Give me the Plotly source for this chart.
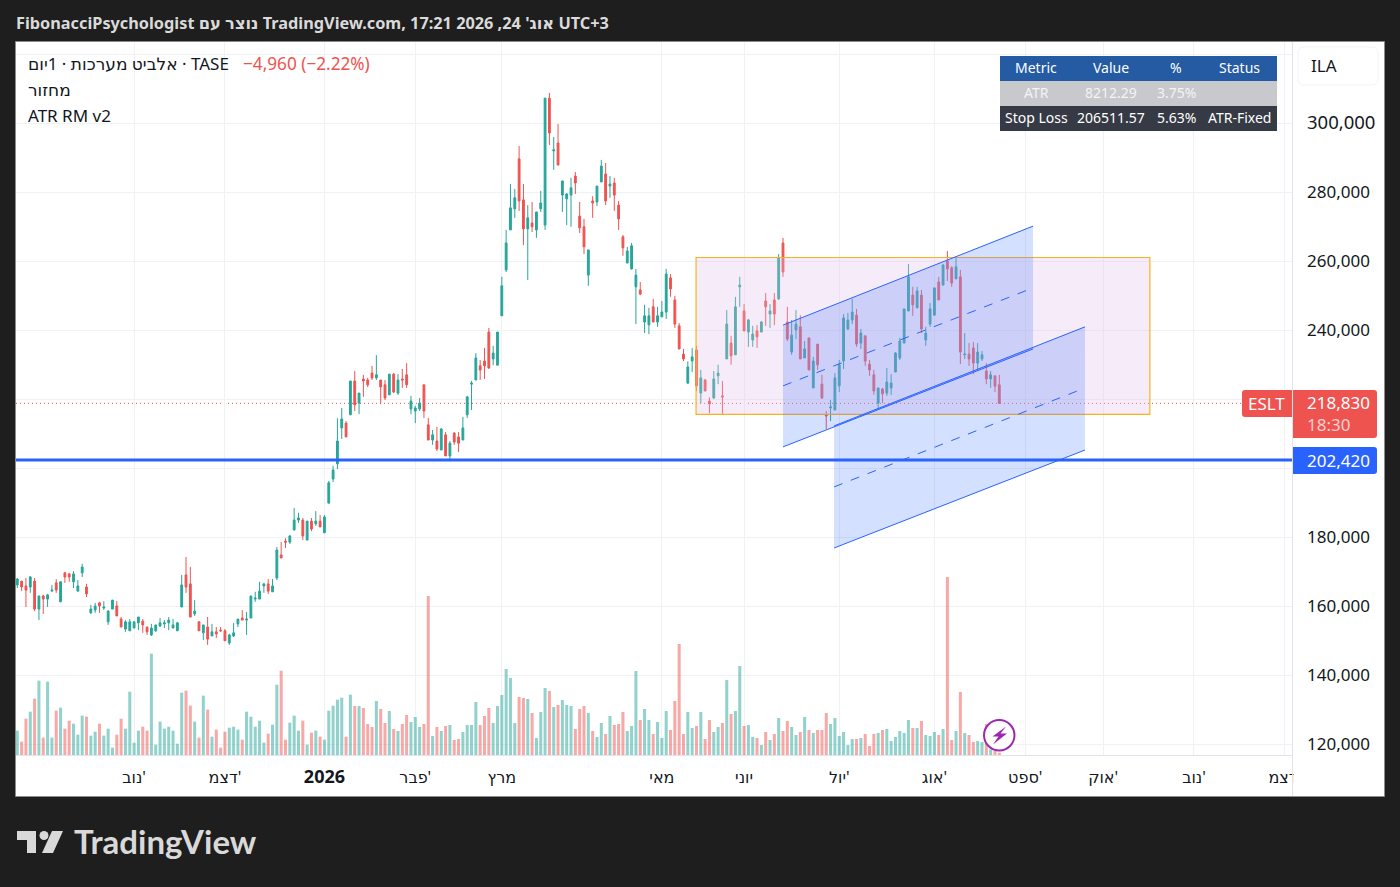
import plotly.graph_objects as go

# prices in thousands of agorot, one entry per daily bar
opens_k = [
    166.2,167.3,165.9,165.6,167.3,159.2,163.0,162.1,164.4,166.8,
    161.3,169.7,169.4,167.1,164.4,169.7,165.6,158.1,158.9,161.0,
    159.5,155.5,159.2,160.1,156.3,153.4,152.9,153.7,155.2,155.7,
    154.0,151.7,152.9,154.3,154.9,155.2,153.7,152.9,159.8,169.1,
    166.5,157.8,155.5,152.3,154.0,151.4,152.6,153.1,152.9,149.4,
    151.4,154.9,156.6,156.0,156.6,162.1,162.1,165.9,166.5,164.2,
    168.2,174.9,178.9,178.6,182.1,185.0,185.0,179.2,184.7,183.9,
    184.7,181.3,189.9,196.9,201.3,211.7,213.1,215.5,225.3,218.9,
    225.9,225.6,227.6,226.2,225.6,224.2,221.3,227.3,221.8,225.9,
    227.1,217.2,216.6,217.2,224.2,212.6,208.2,207.9,205.3,209.7,
    203.6,210.2,209.1,208.2,215.5,224.4,225.6,229.7,231.1,239.5,
    231.7,229.9,244.2,257.5,269.1,275.2,289.7,277.8,269.4,271.1,
    269.1,275.2,270.5,307.3,292.0,294.3,279.2,278.1,279.2,284.7,
    273.1,270.0,256.0,277.5,277.2,283.0,285.3,281.8,282.7,276.3,
    267.1,259.5,257.8,252.6,251.7,242.4,241.6,246.8,242.4,243.9,
    245.3,255.2,248.8,241.3,233.1,224.7,231.1,234.3,221.8,225.6,
    219.5,220.4,226.8,221.0,231.7,236.3,232.9,252.6,245.6,239.5,
    237.2,239.8,239.5,248.5,244.7,248.8,249.1,265.3,242.4,233.7,
    240.1,241.0,232.0,237.8,223.3,236.0,224.4,215.5,217.5,216.9,
    223.9,231.1,240.4,243.0,244.4,236.3,238.4,230.2,227.1,218.9,
    223.0,221.8,223.3,227.9,232.0,236.3,245.6,250.2,246.5,250.2,
    237.2,241.8,244.4,254.0,253.1,260.1,258.1,254.9,255.5,232.9,
    233.1,234.9,230.5,231.7,228.2,225.9,226.8,224.2,
]
highs_k = [
    168.2,167.3,168.2,168.8,168.2,163.0,163.3,163.6,166.2,167.9,
    167.1,169.9,169.7,170.2,167.6,172.3,166.5,160.4,161.0,161.3,
    161.5,158.9,161.8,161.5,156.9,156.0,156.3,155.5,156.9,156.3,
    154.0,154.9,154.6,156.6,156.0,156.9,156.3,155.5,169.1,174.3,
    171.4,161.8,155.7,154.6,156.9,154.9,154.0,154.0,153.4,152.0,
    155.2,156.3,158.9,158.4,163.0,164.2,167.1,166.8,167.9,167.9,
    177.2,178.6,179.7,180.6,188.5,187.1,185.6,184.7,185.6,187.6,
    186.5,186.5,196.3,200.7,214.5,217.5,213.7,225.3,228.2,221.8,
    227.1,226.2,229.7,232.8,225.6,225.6,227.3,227.6,227.3,228.8,
    230.5,221.0,218.1,220.4,224.2,214.6,211.1,212.0,211.7,210.5,
    207.9,210.5,210.5,214.9,221.0,225.3,233.4,231.4,234.9,240.7,
    235.5,239.5,255.5,269.1,282.4,281.0,293.4,282.4,276.3,277.2,
    274.3,280.4,307.3,308.8,296.0,299.8,283.3,279.8,284.2,285.9,
    277.2,272.3,263.3,278.9,281.8,289.4,288.5,284.7,284.2,277.5,
    267.6,264.2,265.3,257.8,254.0,247.4,246.5,249.1,246.8,248.5,
    257.8,256.3,250.0,242.1,234.6,231.0,234.9,235.5,228.5,225.9,
    220.6,228.2,230.0,225.3,245.9,238.4,249.7,255.5,247.6,243.3,
    241.3,241.5,242.7,250.8,247.6,250.8,262.1,266.8,246.8,243.0,
    245.9,244.4,236.9,237.8,232.3,236.0,227.1,216.6,219.8,227.6,
    231.4,244.7,245.0,249.1,246.2,240.4,238.4,231.4,228.5,223.3,
    223.3,229.1,227.3,233.7,237.8,246.2,259.2,252.6,252.6,251.7,
    241.0,247.9,252.3,255.5,259.2,263.0,258.6,261.0,257.5,239.2,
    236.3,236.6,236.3,234.0,230.5,228.2,226.8,227.1,
]
lows_k = [
    165.3,164.4,159.8,163.9,158.6,156.0,157.8,159.8,164.4,163.9,
    161.3,166.8,167.1,165.3,164.4,168.5,162.7,157.8,158.1,158.1,
    158.9,154.6,159.2,157.2,154.0,152.6,152.9,153.7,153.1,152.3,
    151.7,151.4,152.6,154.0,153.7,153.1,153.7,152.9,159.8,163.9,
    156.9,157.2,152.9,150.2,148.8,151.4,150.8,152.6,150.0,148.8,
    151.1,154.0,156.0,151.7,156.6,161.3,162.1,163.9,163.6,164.2,
    167.6,174.0,176.9,178.1,182.1,184.2,179.2,179.2,181.8,183.3,
    183.0,181.3,189.9,196.0,199.8,208.5,209.1,215.5,216.6,215.7,
    220.7,223.6,225.6,225.6,218.6,219.8,221.3,221.8,221.3,223.3,
    223.3,215.7,213.1,216.6,214.6,208.2,206.8,205.0,205.3,203.6,
    202.7,206.8,204.7,208.2,214.6,216.9,225.6,225.6,225.9,228.8,
    229.9,229.9,244.2,256.9,269.1,272.6,274.6,264.7,254.6,268.5,
    266.8,274.3,269.1,293.7,286.5,287.9,274.3,270.5,270.0,279.5,
    268.2,262.1,252.9,272.6,276.0,283.0,276.3,278.4,274.6,269.1,
    261.6,259.5,257.6,241.8,250.2,239.2,238.9,242.4,241.0,243.9,
    243.3,249.7,240.7,234.6,231.1,224.4,227.9,222.4,218.9,222.4,
    216.0,220.1,224.4,215.8,231.7,230.0,232.9,246.8,239.8,235.2,
    235.2,234.9,239.5,241.3,240.7,241.5,248.8,255.5,236.9,232.9,
    237.5,231.7,232.0,228.5,223.3,228.5,220.1,211.4,213.7,216.9,
    222.1,228.8,240.1,241.8,235.2,234.6,229.7,226.8,221.3,217.2,
    218.9,221.0,221.3,227.9,231.4,236.3,245.6,244.2,246.5,239.2,
    235.5,241.0,244.2,248.8,253.1,254.3,252.6,254.9,230.2,231.7,
    229.7,227.3,228.5,231.1,224.4,223.3,222.1,218.8,
]
closes_k = [
    167.9,165.6,164.7,168.5,159.2,163.0,162.1,163.3,164.7,164.7,
    167.1,168.5,168.5,169.4,165.9,171.4,163.6,159.2,160.1,160.1,
    159.8,158.6,161.8,157.2,154.0,155.5,155.5,155.5,156.9,154.6,
    152.6,153.7,154.6,155.2,155.2,156.0,154.6,155.2,166.2,165.6,
    156.9,158.6,152.9,154.6,150.5,152.6,152.0,152.9,150.0,151.7,
    152.3,156.3,156.0,156.3,163.0,162.4,164.4,166.5,164.4,165.9,
    176.3,174.0,178.6,180.4,185.0,185.6,180.4,184.7,182.4,184.7,
    183.0,185.9,195.8,199.5,207.9,214.3,209.1,225.3,218.4,221.8,
    225.3,224.2,226.2,227.1,223.6,220.4,227.3,222.1,225.6,225.6,
    224.2,219.5,217.5,218.9,216.6,208.2,209.7,205.6,211.4,203.6,
    207.3,207.6,207.3,211.7,220.7,224.7,232.0,228.5,229.7,229.1,
    233.4,239.5,252.9,265.3,275.5,278.4,277.5,269.4,272.6,270.0,
    274.3,276.9,307.3,297.2,292.3,287.9,283.3,279.5,281.3,282.7,
    269.7,264.2,263.3,276.9,281.8,287.6,277.5,282.4,279.2,272.3,
    263.9,263.0,264.5,256.0,250.5,244.2,244.2,242.4,244.2,245.3,
    256.3,252.0,241.8,234.6,231.7,229.4,232.3,223.9,226.2,222.4,
    218.7,225.9,227.6,220.7,241.8,232.6,246.8,253.1,239.8,243.0,
    238.9,238.1,242.4,246.8,245.6,244.7,261.0,256.9,237.5,238.6,
    241.8,231.7,234.6,228.5,231.1,230.0,220.4,215.2,217.8,226.2,
    230.0,243.6,243.0,245.3,236.0,239.2,231.1,228.5,222.4,223.3,
    221.6,225.0,224.7,233.4,236.9,246.2,255.5,247.4,251.4,240.4,
    239.2,246.2,252.3,248.8,258.9,257.8,253.7,258.4,233.7,233.1,
    231.7,230.5,233.7,232.9,225.9,227.1,223.8,218.83,
]
volumes = [
    73,40,109,130,169,223,52,220,52,133,
    142,79,103,94,61,118,115,58,70,94,
    58,79,22,61,109,79,190,37,73,85,
    73,304,31,100,79,85,73,34,187,193,
    148,100,52,178,136,55,76,22,70,82,
    85,76,46,130,115,85,103,37,64,91,
    211,253,46,97,118,73,103,31,67,73,
    55,46,133,148,166,172,55,181,147,147,
    141,93,84,162,138,96,132,78,72,93,
    120,99,114,84,93,477,57,84,72,87,
    90,45,48,69,90,90,159,90,117,141,
    96,147,180,258,231,96,174,171,168,126,
    51,129,201,192,144,150,165,150,147,78,
    138,147,126,72,54,96,63,117,90,93,
    129,72,87,252,105,138,105,63,99,51,
    132,75,162,333,63,129,81,87,129,48,
    105,69,84,96,225,123,132,267,87,90,
    54,51,30,69,45,63,111,72,102,84,
    60,69,114,75,66,75,75,126,93,111,
    57,69,30,48,48,51,63,27,63,66,
    75,78,42,54,72,66,105,81,81,102,
    60,57,69,60,78,534,45,72,189,66,
    60,39,42,39,93,17,12,7,
]

# month ticks sit on bar numbers, later ones run past the last bar
month_bars = [27, 48, 71, 92, 112, 149, 168, 190, 212, 233, 251, 272, 293]
month_labels = ["נוב'", "דצמ'", "<span style='font-size:18px'><b>2026</b></span>", "פבר'", "מרץ", "מאי", "יוני", "יול'", "אוג'", "ספט'", "אוק'", "נוב'", "דצמ'"]

price_ticks = [120000, 140000, 160000, 180000, 200000, 220000, 240000, 260000, 280000, 300000, 320000]
price_labels = ["120,000", "140,000", "160,000", "180,000", "", "", "240,000", "260,000", "280,000",
                "<span style='font-size:18.5px'>300,000</span>", ""]

last_price = 218830
alert_price = 202420

# drawings on the chart
box_bars = [156.9, 261.8]
box_prices = [215660, 261100]
chan1_bars = [177.0, 234.8]
chan1_upper = [241500, 270200]
chan1_mid = [223900, 252300]
chan1_lower = [206200, 234600]
chan2_bars = [188.8, 246.8]
chan2_upper = [212300, 241000]
chan2_mid = [194600, 223300]
chan2_lower = [176900, 205300]

table_header = ["Metric", "Value", "%", "Status"]
table_row1 = ["ATR", "8212.29", "3.75%", ""]
table_row2 = ["Stop Loss", "206511.57", "5.63%", "ATR-Fixed"]

W = 1400
H = 887
FONT = "Noto Sans, DejaVu Sans, sans-serif"
UP = "#26a69a"
DOWN = "#ef5350"
BLUE = "#2962ff"
INK = "#131722"


def px(x):
    return x / W


def py(y):
    return 1 - y / H


def poly(points):
    return "M " + " L ".join(f"{px(x)},{py(y)}" for x, y in points) + " Z"


def round_rect(x0, y0, x1, y1, r=3, left=True, right=True):
    rl = r if left else 0
    rr = r if right else 0
    return (f"M {px(x0 + rl)},{py(y0)} L {px(x1 - rr)},{py(y0)} Q {px(x1)},{py(y0)} {px(x1)},{py(y0 + rr)} "
            f"L {px(x1)},{py(y1 - rr)} Q {px(x1)},{py(y1)} {px(x1 - rr)},{py(y1)} "
            f"L {px(x0 + rl)},{py(y1)} Q {px(x0)},{py(y1)} {px(x0)},{py(y1 - rl)} "
            f"L {px(x0)},{py(y0 + rl)} Q {px(x0)},{py(y0)} {px(x0 + rl)},{py(y0)} Z")


bars = list(range(len(closes_k)))
opens = [v * 1000 for v in opens_k]
highs = [v * 1000 for v in highs_k]
lows = [v * 1000 for v in lows_k]
closes = [v * 1000 for v in closes_k]
vol_colors = ["rgba(38,166,154,0.5)" if c >= o else "rgba(239,83,80,0.5)" for o, c in zip(opens, closes)]

fig = go.Figure()

fig.add_trace(go.Bar(x=bars, y=volumes, yaxis="y2", width=0.7, marker=dict(color=vol_colors, line_width=0),
                     hoverinfo="skip"))
fig.add_trace(go.Candlestick(
    x=bars, open=opens, high=highs, low=lows, close=closes,
    increasing=dict(line=dict(color=UP, width=1), fillcolor=UP),
    decreasing=dict(line=dict(color=DOWN, width=1), fillcolor=DOWN),
    whiskerwidth=0, hoverinfo="skip"))

shapes = []
# chart frame and pale panels
shapes.append(dict(type="rect", xref="paper", yref="paper", x0=px(15.5), x1=px(1384.5), y0=py(796.5), y1=py(41.5),
                   fillcolor="#ffffff", line=dict(color="#8c8c8c", width=1), layer="below"))
shapes.append(dict(type="line", xref="paper", yref="paper", x0=px(1292.5), x1=px(1292.5), y0=py(796), y1=py(42),
                   line=dict(color="#e0e3eb", width=1), layer="above"))
# price lines
shapes.append(dict(type="line", xref="paper", yref="y", x0=px(16), x1=px(1292), y0=last_price, y1=last_price,
                   line=dict(color=DOWN, width=1, dash="1px,3px"), layer="below"))
shapes.append(dict(type="line", xref="paper", yref="y", x0=px(16), x1=px(1292), y0=alert_price, y1=alert_price,
                   line=dict(color=BLUE, width=3), layer="above"))
# yellow range box
shapes.append(dict(type="rect", xref="x", yref="y", x0=box_bars[0], x1=box_bars[1], y0=box_prices[0], y1=box_prices[1],
                   fillcolor="rgba(225,190,231,0.3)", line=dict(color="#f9b21f", width=1.2), layer="above"))
# the two parallel channels
for cx, up, mid, low in [(chan1_bars, chan1_upper, chan1_mid, chan1_lower),
                         (chan2_bars, chan2_upper, chan2_mid, chan2_lower)]:
    shapes.append(dict(type="path", xref="x", yref="y", layer="above",
                       path=f"M {cx[0]},{up[0]} L {cx[1]},{up[1]} L {cx[1]},{low[1]} L {cx[0]},{low[0]} Z",
                       fillcolor="rgba(41,98,255,0.2)", line=dict(width=0)))
    for line_y, dash in [(up, "solid"), (mid, "dash"), (low, "solid")]:
        shapes.append(dict(type="line", xref="x", yref="y", layer="above", x0=cx[0], x1=cx[1], y0=line_y[0], y1=line_y[1],
                           line=dict(color=BLUE, width=1, dash=dash)))

# stats table rows
table_cols = [1036, 1111, 1176, 1239]
for top, fill in [(56, "#245ba3"), (81, "#c8c9cc"), (106, "#363a45")]:
    shapes.append(dict(type="rect", xref="paper", yref="paper", x0=px(1000), x1=px(1277), y0=py(top + 25), y1=py(top),
                       fillcolor=fill, line=dict(width=0)))

# price tags
shapes.append(dict(type="path", xref="paper", yref="paper", path=round_rect(1242, 390, 1292, 417, 3, True, False),
                   fillcolor=DOWN, line=dict(width=0)))
shapes.append(dict(type="path", xref="paper", yref="paper", path=round_rect(1293, 390, 1377, 438, 3, False, True),
                   fillcolor=DOWN, line=dict(width=0)))
shapes.append(dict(type="path", xref="paper", yref="paper", path=round_rect(1293, 447, 1377, 474, 3, False, True),
                   fillcolor=BLUE, line=dict(width=0)))
shapes.append(dict(type="path", xref="paper", yref="paper", path=round_rect(1298, 47, 1378, 85, 6),
                   fillcolor="#ffffff", line=dict(color="#f0f3fa", width=1)))
# lightning badge
shapes.append(dict(type="circle", xref="paper", yref="paper", x0=px(984), x1=px(1014.5), y0=py(750.5), y1=py(720),
                   fillcolor="#ffffff", line=dict(color="#9c27b0", width=2)))
shapes.append(dict(type="path", xref="paper", yref="paper",
                   path=poly([(1006, 726.5), (992.5, 736.5), (998.5, 736.5), (993, 744.5), (1007, 733.5), (1000.5, 733.5)]),
                   fillcolor="#9c27b0", line=dict(width=0)))
# logo
shapes.append(dict(type="path", xref="paper", yref="paper",
                   path=poly([(17, 831), (36, 831), (36, 853), (27, 853), (27, 840), (17, 840)]),
                   fillcolor="#d9d9d9", line=dict(width=0)))
shapes.append(dict(type="circle", xref="paper", yref="paper", x0=px(39.5), x1=px(48.5), y0=py(840), y1=py(831),
                   fillcolor="#d9d9d9", line=dict(width=0)))
shapes.append(dict(type="path", xref="paper", yref="paper",
                   path=poly([(52, 831), (63, 831), (53, 853), (42, 853)]),
                   fillcolor="#d9d9d9", line=dict(width=0)))


def note(x, y, text, size=17, color=INK, anchor="left", family=FONT, **kw):
    return dict(xref="paper", yref="paper", x=px(x), y=py(y), text=text, showarrow=False, xanchor=anchor,
                yanchor="middle", align=anchor, borderpad=0, font=dict(family=family, size=size, color=color), **kw)


annotations = [
    note(15, 23, "<b>FibonacciPsychologist נוצר עם TradingView.com, 17:21 2026 ,24 אוג'\u200f UTC+3</b>", 16.3, "#dadada"),
    note(27, 63, "אלביט מערכות · 1יום · TASE"),
    note(242, 63, "−4,960 (−2.22%)", 17.2, DOWN),
    note(27, 90, "מחזור"),
    note(27, 116, "ATR RM v2"),
    note(1324, 66, "ILA", 17, INK, "center"),
    note(1266, 403, "ESLT", 17, "#ffffff", "center"),
    note(1306, 413, "218,830<br><span style='color:#fbd0d0'>18:30</span>", 17, "#ffffff"),
    note(1306, 460, "202,420", 17, "#ffffff"),
    note(73, 841, "<b>TradingView</b>", 33, "#d9d9d9", family="Lato, Noto Sans, sans-serif"),
    # hides the end of the last month label where the price axis starts
    dict(xref="paper", yref="paper", x=px(1293), y=py(777), text=" ", showarrow=False, xanchor="left", yanchor="middle",
         width=14, height=22, bgcolor="#ffffff", borderpad=0),
]
for row, color, row_y in [(table_header, "#ffffff", 67.5), (table_row1, "#f4f4f4", 92.5), (table_row2, "#ffffff", 117.5)]:
    for cx, cell in zip(table_cols, row):
        if cell:
            annotations.append(note(cx, row_y, cell, 14, color, "center"))

fig.update_layout(
    width=W, height=H,
    margin=dict(l=0, r=0, t=0, b=0, autoexpand=False),
    paper_bgcolor="#1e1e1e",
    plot_bgcolor="#ffffff",
    showlegend=False,
    boxgap=0.4,
    font=dict(family=FONT, color=INK),
    shapes=shapes,
    annotations=annotations,
    xaxis=dict(domain=[px(16), px(1292)], range=[-0.3, 294.66], type="linear", rangeslider=dict(visible=False),
               tickmode="array", tickvals=month_bars, ticktext=month_labels, tickangle=0,
               ticks="", ticklabelstandoff=8, tickfont=dict(family=FONT, size=16, color=INK),
               showgrid=True, gridcolor="#f0f1f4", gridwidth=1, zeroline=False,
               showline=True, linecolor="#e0e3eb", linewidth=1, anchor="y"),
    yaxis=dict(domain=[py(755), py(42)], range=[116900, 323570], side="right",
               tickmode="array", tickvals=price_ticks, ticktext=price_labels,
               ticks="", ticklabelstandoff=14, tickfont=dict(family=FONT, size=17, color=INK),
               showgrid=True, gridcolor="#f0f1f4", gridwidth=1, zeroline=False, showline=False, anchor="x"),
    yaxis2=dict(domain=[py(755), py(42)], range=[0, 2139], overlaying="y", visible=False, anchor="x"),
)

fig.write_html("out.html", config={"displayModeBar": False},
               post_script="document.body.style.margin='0';document.documentElement.style.overflow='hidden';")
